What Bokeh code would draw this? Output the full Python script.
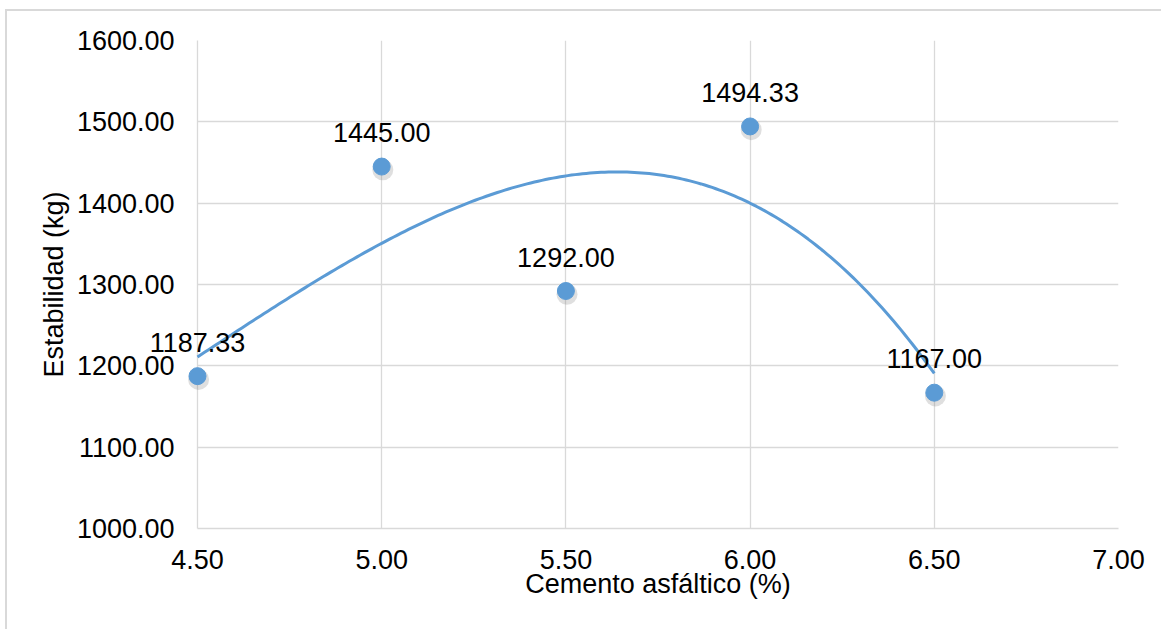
import numpy as np
from bokeh.plotting import figure
from bokeh.models import Range1d, FixedTicker, PrintfTickFormatter, ColumnDataSource
from bokeh.transform import dodge
from bokeh.core.properties import value
from bokeh.embed import file_html
from bokeh.resources import INLINE

# Data
cemento = [4.50, 5.00, 5.50, 6.00, 6.50]
estabilidad = [1187.33, 1445.00, 1292.00, 1494.33, 1167.00]
x_ticks = [4.5, 5.0, 5.5, 6.0, 6.5, 7.0]
y_ticks = [1000, 1100, 1200, 1300, 1400, 1500, 1600]

FONT = "Liberation Sans"
BLUE = "#5B9BD5"
GRID = "#d9d9d9"

p = figure(width=1161, height=629, output_backend="svg", toolbar_location=None,
           x_range=Range1d(4.5, 7.0), y_range=Range1d(1000, 1600),
           min_border_left=197, min_border_top=40, min_border_right=43, min_border_bottom=101)
p.outline_line_color = None
p.background_fill_color = "white"
p.border_fill_color = None
p.styles = {
    "background-color": "white",
    "box-shadow": ("inset 5px 0 0 0 #ffffff, inset 0 9px 0 0 #ffffff, "
                   "inset 7px 0 0 0 #d9d9d9, inset 0 11px 0 0 #d9d9d9"),
}

for ax in (p.xaxis[0], p.yaxis[0]):
    ax.major_tick_line_color = None
    ax.minor_tick_line_color = None
    ax.axis_line_color = GRID
    ax.axis_line_width = 1.3
    ax.major_label_text_font = FONT
    ax.major_label_text_font_size = "27px"
    ax.major_label_text_color = "#000000"
    ax.axis_label_text_font = FONT
    ax.axis_label_text_font_size = "27px"
    ax.axis_label_text_font_style = "normal"
    ax.axis_label_text_color = "#000000"
    ax.formatter = PrintfTickFormatter(format="%.2f")

p.xaxis.ticker = FixedTicker(ticks=x_ticks)
p.yaxis.ticker = FixedTicker(ticks=y_ticks)
p.xaxis.axis_label = "Cemento asfáltico (%)"
p.yaxis.axis_label = "Estabilidad (kg)"
p.yaxis.major_label_standoff = 17
p.xaxis.major_label_standoff = 15
p.yaxis.axis_label_standoff = 5
p.xaxis.axis_label_standoff = -3

p.xgrid.ticker = FixedTicker(ticks=x_ticks)
p.ygrid.ticker = FixedTicker(ticks=y_ticks)
for g in (p.xgrid[0], p.ygrid[0]):
    g.grid_line_color = GRID
    g.grid_line_width = 1.3

# Polynomial (order 3) trendline fitted to the data
coef = np.polyfit(cemento, estabilidad, 3)
xs = np.linspace(min(cemento), max(cemento), 200)
ys = np.polyval(coef, xs)
p.line(xs, ys, line_color=BLUE, line_width=3, level="overlay")

src = ColumnDataSource(dict(x=cemento, y=estabilidad,
                            lab=[f"{v:.2f}" for v in estabilidad]))
# soft shadow
p.scatter(x=dodge("x", 0.003, range=p.x_range), y=dodge("y", -4, range=p.y_range),
          source=src, size=21, fill_color="#7f7f7f", fill_alpha=0.25,
          line_color=None, level="overlay")
p.scatter(x="x", y="y", source=src, size=17, fill_color=BLUE, line_color=BLUE,
          line_width=1, level="overlay")
p.text(x="x", y="y", text="lab", source=src, text_font=value(FONT),
       text_font_size="27px", text_color="#000000", text_align="center",
       text_baseline="alphabetic", y_offset=-34, level="overlay")

open("out.html", "w").write(file_html(p, INLINE))
